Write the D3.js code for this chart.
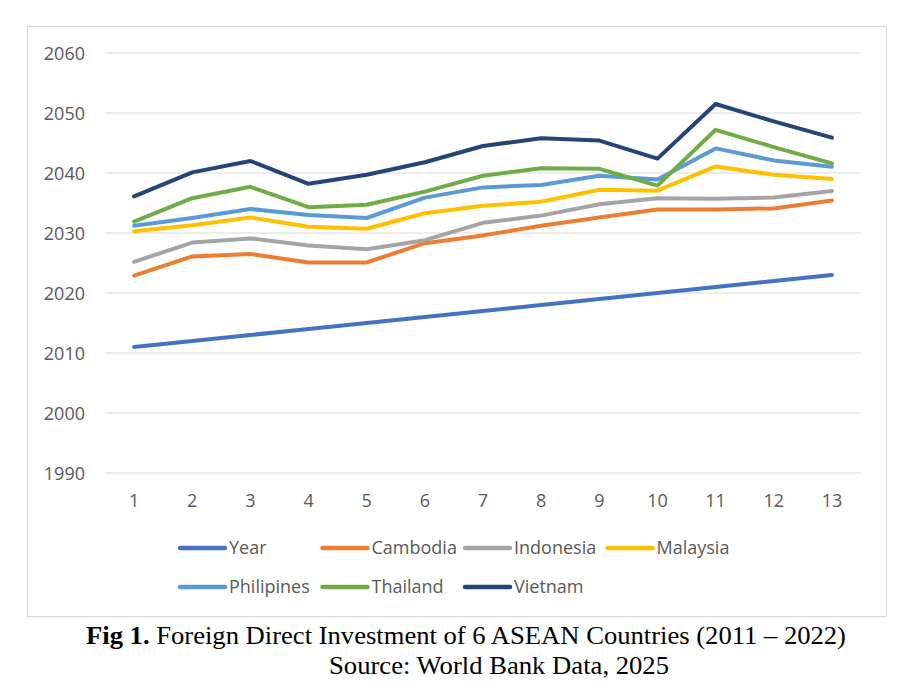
<!DOCTYPE html>
<html>
<head>
<meta charset="utf-8">
<script src="https://cdn.jsdelivr.net/npm/d3@7/dist/d3.min.js"></script>
<style>
  html, body { margin: 0; padding: 0; background: #fff; }
  svg { display: block; }
</style>
</head>
<body>
<svg id="chart" width="916" height="682"></svg>
<script>
// ---- data ----
const categories = [1, 2, 3, 4, 5, 6, 7, 8, 9, 10, 11, 12, 13];
const yearSeries = [2011, 2012, 2013, 2014, 2015, 2016, 2017, 2018, 2019, 2020, 2021, 2022, 2023];
const cambodia   = [2022.9, 2026.1, 2026.5, 2025.1, 2025.1, 2028.3, 2029.6, 2031.2, 2032.6, 2033.9, 2033.9, 2034.1, 2035.4];
const indonesia  = [2025.2, 2028.4, 2029.1, 2027.9, 2027.3, 2028.8, 2031.7, 2032.9, 2034.8, 2035.8, 2035.7, 2035.9, 2037.0];
const malaysia   = [2030.3, 2031.3, 2032.6, 2031.05, 2030.7, 2033.3, 2034.55, 2035.2, 2037.2, 2037.05, 2041.1, 2039.7, 2039.0];
const philipines = [2031.2, 2032.5, 2034.0, 2033.0, 2032.5, 2035.9, 2037.6, 2038.0, 2039.55, 2038.9, 2044.1, 2042.1, 2041.05];
const thailand   = [2031.9, 2035.8, 2037.7, 2034.3, 2034.7, 2036.9, 2039.55, 2040.8, 2040.7, 2037.9, 2047.2, 2044.3, 2041.6];
const vietnam    = [2036.1, 2040.1, 2042.0, 2038.2, 2039.7, 2041.8, 2044.5, 2045.8, 2045.4, 2042.4, 2051.5, 2048.6, 2045.9];
const yTicks = [1990, 2000, 2010, 2020, 2030, 2040, 2050, 2060];
const seriesNames = ["Year", "Cambodia", "Indonesia", "Malaysia", "Philipines", "Thailand", "Vietnam"];
const seriesColors = ["#4472C4", "#ED7D31", "#A5A5A5", "#FFC000", "#5B9BD5", "#70AD47", "#264478"];
const captionBold = "Fig 1.";
const captionRest = " Foreign Direct Investment of 6 ASEAN Countries (2011 \u2013 2022)";
const captionLine2 = "Source: World Bank Data, 2025";

const seriesValues = [yearSeries, cambodia, indonesia, malaysia, philipines, thailand, vietnam];
const series = seriesNames.map((n, i) => ({ name: n, color: seriesColors[i], values: seriesValues[i] }));

// ---- layout ----
const svg = d3.select("#chart");
const labelFont = "'Open Sans', 'Noto Sans', sans-serif";
const textColor = "#595959";

// frame
svg.append("rect")
  .attr("x", 27.5).attr("y", 26.5)
  .attr("width", 859).attr("height", 590)
  .attr("fill", "#fff").attr("stroke", "#D9D9D9").attr("stroke-width", 1.2);

const x = d3.scaleBand().domain(categories).range([105, 861]);
const xc = d => x(d) + x.bandwidth() / 2;
const y = d3.scaleLinear().domain([1990, 2060]).range([473, 53]);

// gridlines
svg.append("g").selectAll("line").data(yTicks).join("line")
  .attr("x1", 105).attr("x2", 861)
  .attr("y1", d => y(d)).attr("y2", d => y(d))
  .attr("stroke", "#D9D9D9").attr("stroke-width", 1.2);

// y axis labels
const yAxis = d3.axisLeft(y).tickValues(yTicks).tickSize(0).tickPadding(0).tickFormat(d3.format("d"));
const yg = svg.append("g").attr("transform", "translate(85,0)").call(yAxis);
yg.select(".domain").remove();
yg.selectAll("text")
  .attr("font-family", labelFont).attr("font-size", 18).attr("fill", textColor).attr("dy", "0.34em");

// x axis labels
const xAxis = d3.axisBottom(x).tickSize(0).tickPadding(0);
const xg = svg.append("g").attr("transform", "translate(0,501)").call(xAxis);
xg.select(".domain").remove();
xg.selectAll("text")
  .attr("font-family", labelFont).attr("font-size", 18).attr("fill", textColor).attr("dy", "0.34em");

// lines
const line = d3.line().x((d, i) => xc(categories[i])).y(d => y(d));
svg.append("g").selectAll("path").data(series).join("path")
  .attr("d", d => line(d.values))
  .attr("fill", "none")
  .attr("stroke", d => d.color)
  .attr("stroke-width", 4)
  .attr("stroke-linejoin", "round")
  .attr("stroke-linecap", "round");

// legend
const legX0 = 178, legColW = 142.5, legRowY = [548, 587];
const leg = svg.append("g").selectAll("g").data(series).join("g")
  .attr("transform", (d, i) => `translate(${legX0 + (i % 4) * legColW},${legRowY[Math.floor(i / 4)]})`);
leg.append("line")
  .attr("x1", 2).attr("x2", 47).attr("y1", 0).attr("y2", 0)
  .attr("stroke", d => d.color).attr("stroke-width", 4.5).attr("stroke-linecap", "round");
leg.append("text")
  .attr("x", 51).attr("y", 0).attr("dy", "0.35em")
  .attr("font-family", labelFont).attr("font-size", 18).attr("fill", textColor)
  .text(d => d.name);

// caption
const serif = "'Liberation Serif', 'DejaVu Serif', serif";
const cap1 = svg.append("text")
  .attr("x", 86).attr("y", 644)
  .attr("font-family", serif).attr("font-size", 25).attr("fill", "#000")
  .attr("textLength", 760).attr("lengthAdjust", "spacingAndGlyphs");
cap1.append("tspan").attr("font-weight", "bold").text(captionBold);
cap1.append("tspan").text(captionRest);
svg.append("text")
  .attr("x", 329).attr("y", 674)
  .attr("font-family", serif).attr("font-size", 25).attr("fill", "#000")
  .attr("textLength", 340).attr("lengthAdjust", "spacingAndGlyphs")
  .text(captionLine2);
</script>
</body>
</html>
